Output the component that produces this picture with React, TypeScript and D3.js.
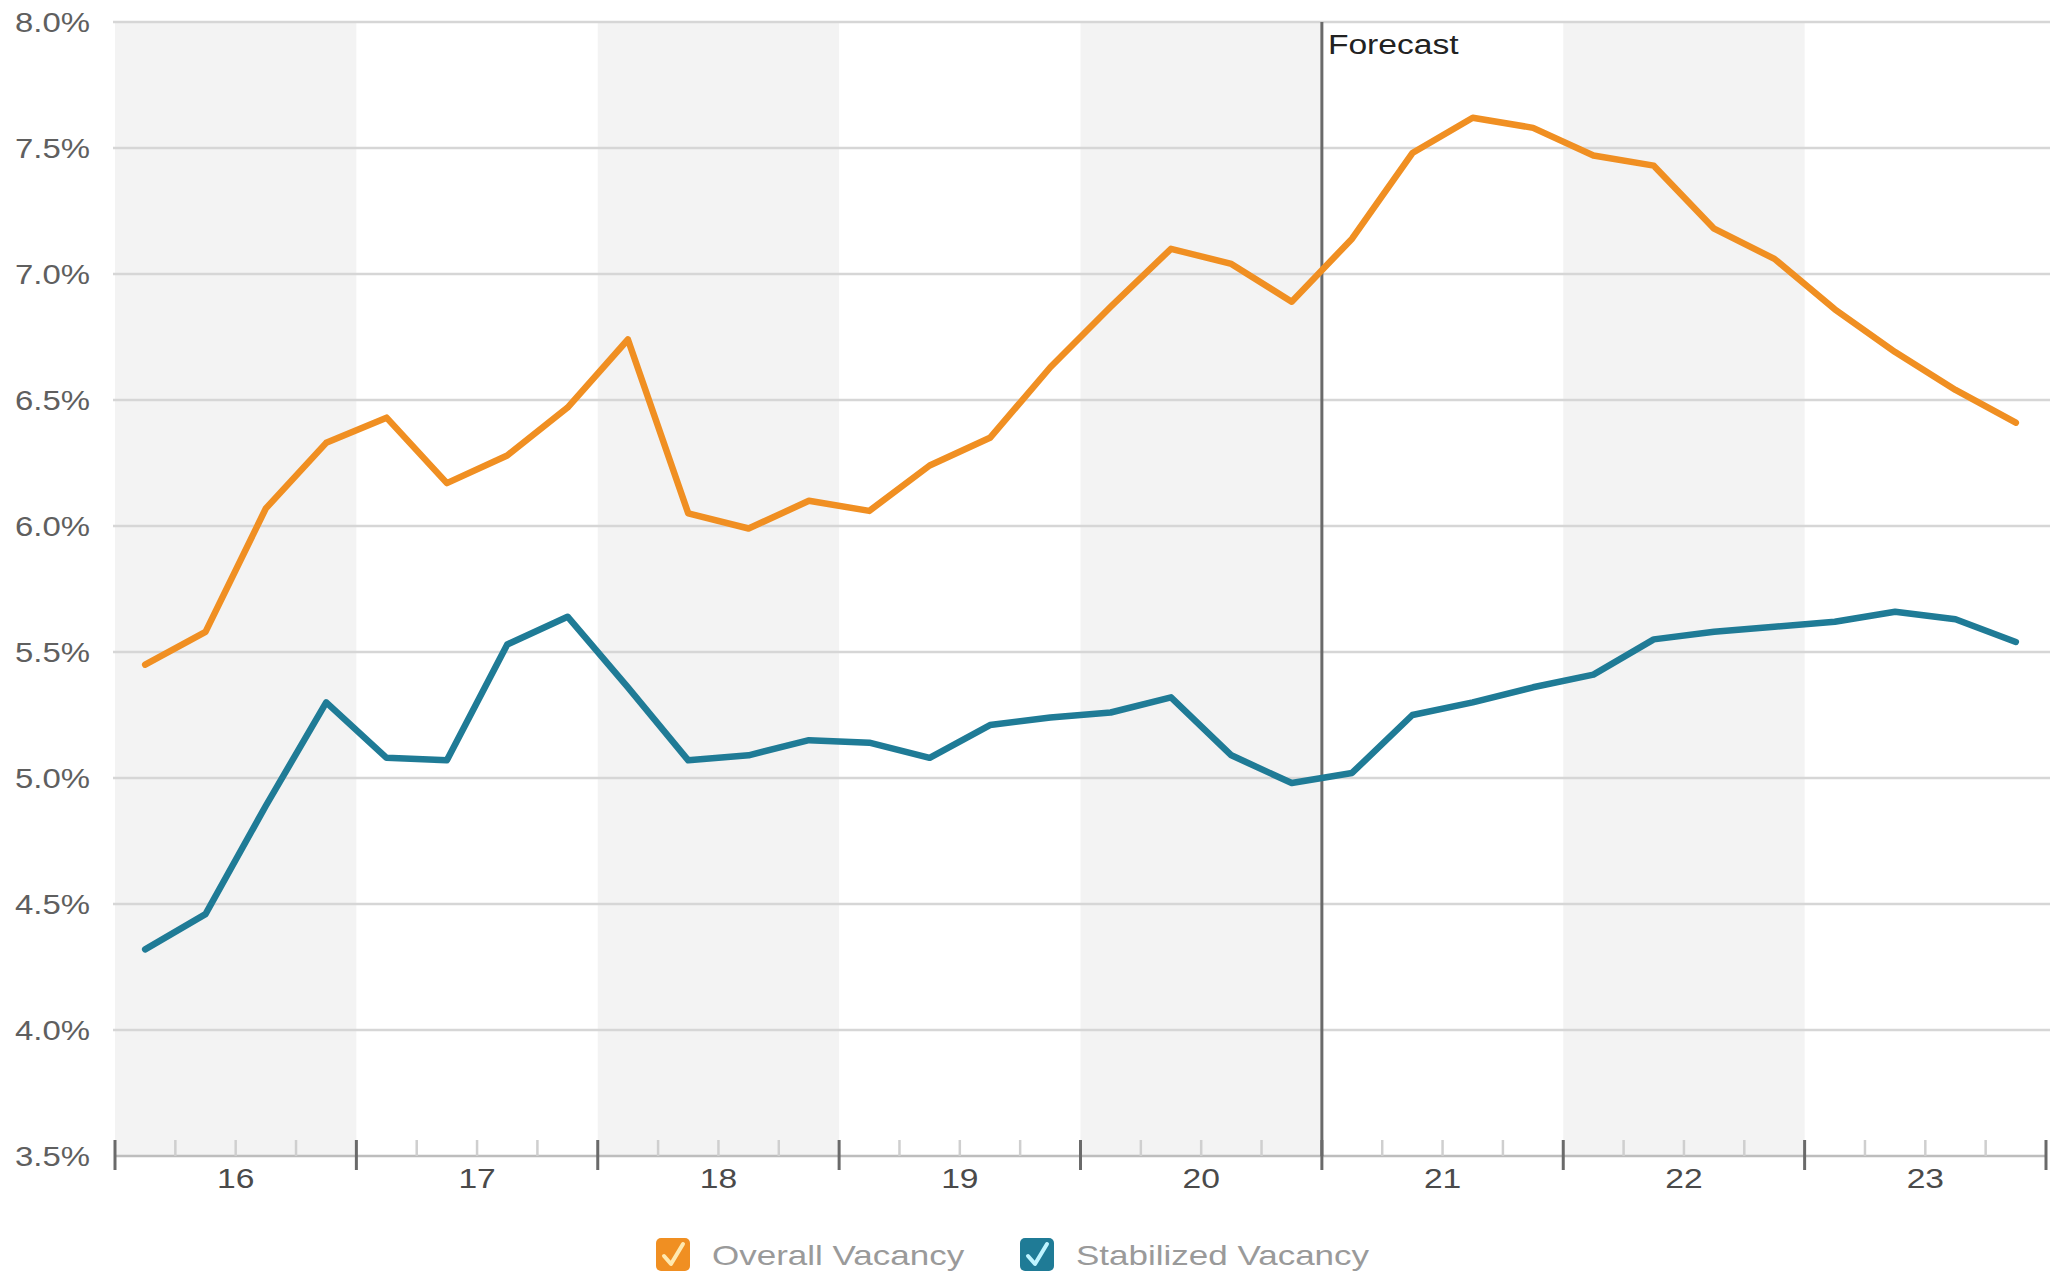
import React from "react";
import * as d3 from "d3";

const years = ["16", "17", "18", "19", "20", "21", "22", "23"];
const yTicks = [3.5, 4.0, 4.5, 5.0, 5.5, 6.0, 6.5, 7.0, 7.5, 8.0];
const overall = [5.45, 5.58, 6.07, 6.33, 6.43, 6.17, 6.28, 6.47, 6.74, 6.05, 5.99, 6.10, 6.06, 6.24, 6.35, 6.63, 6.87, 7.10, 7.04, 6.89, 7.14, 7.48, 7.62, 7.58, 7.47, 7.43, 7.18, 7.06, 6.86, 6.69, 6.54, 6.41];
const stabilized = [4.32, 4.46, 4.89, 5.30, 5.08, 5.07, 5.53, 5.64, 5.36, 5.07, 5.09, 5.15, 5.14, 5.08, 5.21, 5.24, 5.26, 5.32, 5.09, 4.98, 5.02, 5.25, 5.30, 5.36, 5.41, 5.55, 5.58, 5.60, 5.62, 5.66, 5.63, 5.54];
const forecastYearIndex = 5;
const shadedYears = [0, 2, 4, 6];
const legendItems = ["Overall Vacancy", "Stabilized Vacancy"];

const W = 2072, H = 1274;
const FONT = "'Liberation Sans', Arial, sans-serif";

const ORANGE = "#f08f22";
const TEAL = "#1f7b96";

function T({ x, y, anchor = "start", size = 27, fill = "#666", sx = 1.2, children }: any) {
  return (
    <text transform={`translate(${x},${y}) scale(${sx},1)`} textAnchor={anchor} fontSize={size} fill={fill} fontFamily={FONT}>
      {children}
    </text>
  );
}

export default function App() {
  const x = d3.scaleLinear().domain([0, years.length]).range([115, 2046]);
  const y = d3.scaleLinear().domain([3.5, 8.0]).range([1156, 22]);
  const top = y(8.0), bottom = y(3.5);

  const line = d3.line<number>()
    .x((_, i) => x(i / 4 + 0.125))
    .y((d) => y(d));

  const quarterTicks = d3.range(0, years.length * 4 + 1);

  return (
    <div style={{ position: "absolute", left: 0, top: 0, background: "#fff" }}>
      <svg width={W} height={H} viewBox={`0 0 ${W} ${H}`}>
        <rect x={0} y={0} width={W} height={H} fill="#fff" />
        {shadedYears.map((yi) => (
          <rect key={yi} x={x(yi)} y={top} width={x(yi + 1) - x(yi)} height={bottom - top} fill="#f3f3f3" />
        ))}
        {yTicks.slice(1).map((t) => (
          <line key={t} x1={x(0) - 2} x2={x(years.length) + 4} y1={y(t)} y2={y(t)} stroke="#d6d6d6" strokeWidth={2.5} />
        ))}
        {yTicks.map((t) => (
          <T key={t} x={90} y={y(t) + 10} anchor="end" size={27} fill="#5f5f5f" sx={1.22}>
            {t.toFixed(1) + "%"}
          </T>
        ))}
        {/* x axis */}
        <line x1={x(0)} x2={x(years.length)} y1={bottom} y2={bottom} stroke="#bdbdbd" strokeWidth={2.5} />
        {quarterTicks.map((q) =>
          q % 4 === 0 ? (
            <line key={q} x1={x(q / 4)} x2={x(q / 4)} y1={bottom - 16} y2={bottom + 14} stroke="#6a6a6a" strokeWidth={3} />
          ) : (
            <line key={q} x1={x(q / 4)} x2={x(q / 4)} y1={bottom - 16} y2={bottom} stroke="#cfcfcf" strokeWidth={2.5} />
          )
        )}
        {years.map((yr, i) => (
          <T key={yr} x={x(i + 0.5)} y={1188} anchor="middle" size={28} fill="#4a4a4a">
            {yr}
          </T>
        ))}
        {/* forecast */}
        <line x1={x(forecastYearIndex)} x2={x(forecastYearIndex)} y1={top} y2={bottom} stroke="#6a6a6a" strokeWidth={3} />
        <T x={x(forecastYearIndex) + 6} y={54} size={28} fill="#222">Forecast</T>
        {/* series */}
        <path d={line(overall) || ""} fill="none" stroke={ORANGE} strokeWidth={6.5} strokeLinejoin="round" strokeLinecap="round" />
        <path d={line(stabilized) || ""} fill="none" stroke={TEAL} strokeWidth={6.5} strokeLinejoin="round" strokeLinecap="round" />
        {/* legend */}
        {legendItems.map((name, i) => {
          const bx = i === 0 ? 656 : 1020;
          const color = i === 0 ? ORANGE : TEAL;
          const check = i === 0 ? "#ffe9b0" : "#bff4ff";
          return (
            <g key={name}>
              <rect x={bx} y={1238} width={34} height={33} rx={5} fill={color} />
              <path d={`M${bx + 8},${1256} L${bx + 15},${1264} L${bx + 27},${1244}`} fill="none" stroke={check} strokeWidth={4} strokeLinecap="round" strokeLinejoin="round" />
              <T x={bx + 56} y={1265} size={28} fill="#9a9a9a" sx={1.25}>{name}</T>
            </g>
          );
        })}
      </svg>
    </div>
  );
}
